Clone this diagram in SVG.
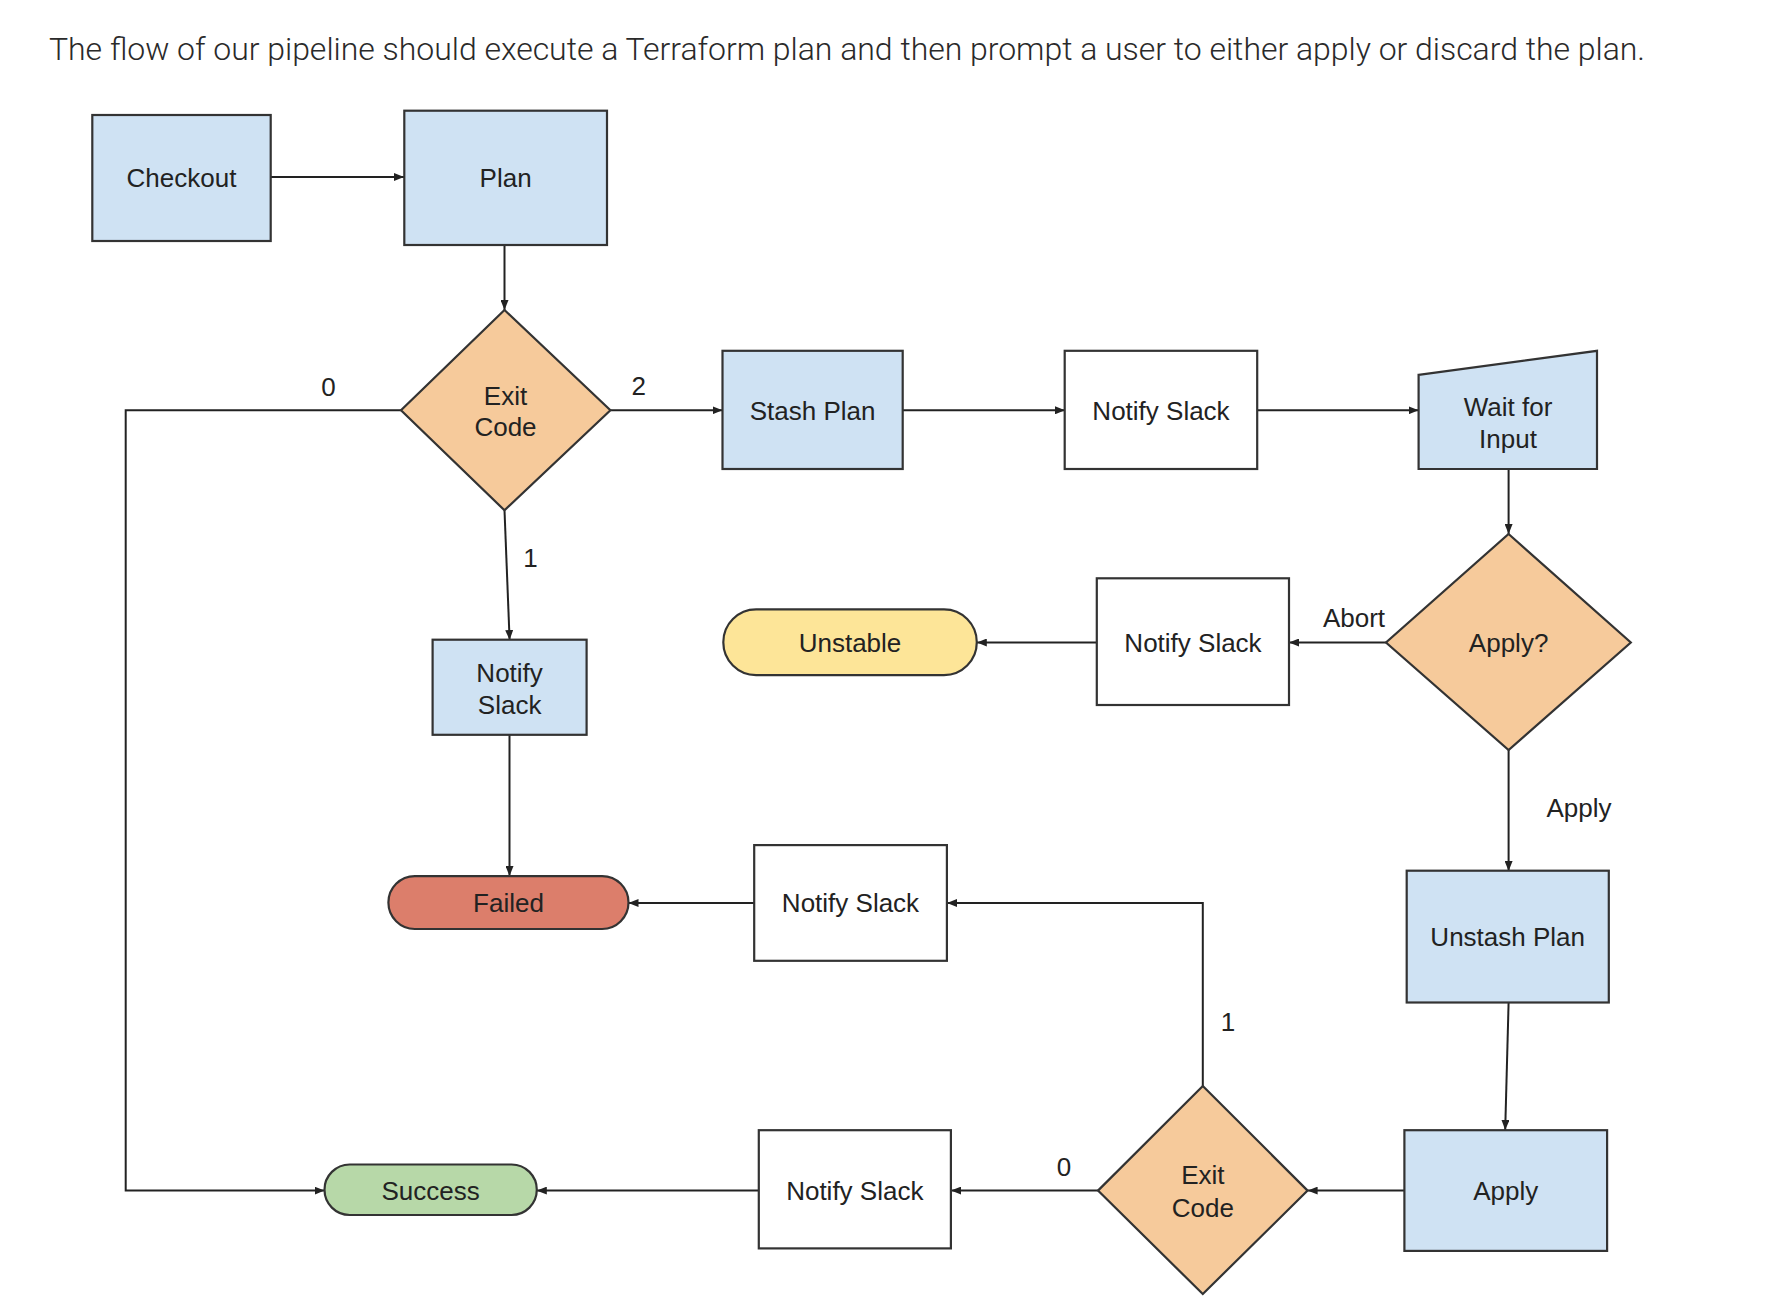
<svg xmlns="http://www.w3.org/2000/svg" width="1776" height="1296" viewBox="0 0 1776 1296">
<style>
.title{font-family:Roboto,"Liberation Sans",sans-serif;font-weight:300;font-size:32px;fill:#2a2a2a}
.t{font-family:"Liberation Sans",Arial,sans-serif;font-size:26px;fill:#222;text-anchor:middle}
.lbl{font-family:"Liberation Sans",Arial,sans-serif;font-size:26px;fill:#222;text-anchor:middle}
.blue{fill:#cfe2f3;stroke:#333;stroke-width:2.2}
.white{fill:#fff;stroke:#333;stroke-width:2.2}
.dia{fill:#f6ca9b;stroke:#333;stroke-width:2.2}
.fail{fill:#dc7e6b;stroke:#333;stroke-width:2.2}
.unst{fill:#fde598;stroke:#333;stroke-width:2.2}
.succ{fill:#b7d8a8;stroke:#333;stroke-width:2.2}
.c{fill:none;stroke:#222;stroke-width:2;marker-end:url(#ah)}
.cn{fill:none;stroke:#222;stroke-width:2}
</style>
<defs>
<marker id="ah" viewBox="0 0 10 8" refX="10" refY="4" markerWidth="10" markerHeight="8" markerUnits="userSpaceOnUse" orient="auto">
<path d="M0,0 L10,4 L0,8 z" fill="#222"/>
</marker>
</defs>
<rect width="1776" height="1296" fill="#fff"/>
<text class="title" x="49" y="60" textLength="1596" lengthAdjust="spacing">The flow of our pipeline should execute a Terraform plan and then prompt a user to either apply or discard the plan.</text>

<g id="connectors">
<path class="c" d="M271,177 H404"/>
<path class="c" d="M504.5,245 V310"/>
<path class="c" d="M610.4,410.3 H722.5"/>
<path class="c" d="M902.7,410.3 H1065"/>
<path class="c" d="M1257,410.3 H1418.6"/>
<path class="c" d="M1508.6,469 V534"/>
<path class="c" d="M1386,642.5 H1289"/>
<path class="c" d="M1097,642.5 H976.8"/>
<path class="c" d="M1508.6,750 V871"/>
<path class="c" d="M1508.6,1002.5 L1505.2,1130"/>
<path class="c" d="M1404,1190.6 H1307.6"/>
<path class="c" d="M1098,1190.6 H951"/>
<path class="c" d="M759,1190.6 H536.8"/>
<path class="c" d="M1202.8,1086 V903 H947"/>
<path class="c" d="M754,903 H628.5"/>
<path class="c" d="M504.5,510.3 L509.6,640"/>
<path class="c" d="M509.5,735 V876"/>
<path class="c" d="M401,410.3 H125.7 V1190.6 H324.5"/>
<text class="lbl" x="328.4" y="396">0</text>
<text class="lbl" x="638.7" y="394.5">2</text>
<text class="lbl" x="530.6" y="567">1</text>
<text class="lbl" x="1354" y="627">Abort</text>
<text class="lbl" x="1579" y="817">Apply</text>
<text class="lbl" x="1228" y="1031">1</text>
<text class="lbl" x="1064" y="1175.6">0</text>
</g>

<g id="checkout">
<rect class="blue" x="92.3" y="115" width="178.4" height="126"/>
<text class="t" x="181.5" y="187">Checkout</text>
</g>
<g id="plan">
<rect class="blue" x="404.3" y="110.7" width="202.7" height="134.3"/>
<text class="t" x="505.6" y="187">Plan</text>
</g>
<g id="exit-code-1">
<polygon class="dia" points="504.5,310 610.4,410.3 504.5,510.3 401,410.3"/>
<text class="t" x="505.5" y="404.5">Exit</text>
<text class="t" x="505.5" y="436">Code</text>
</g>
<g id="stash-plan">
<rect class="blue" x="722.5" y="350.8" width="180.2" height="118.2"/>
<text class="t" x="812.6" y="419.5">Stash Plan</text>
</g>
<g id="notify-slack-1">
<rect class="white" x="1064.7" y="350.8" width="192.5" height="118.2"/>
<text class="t" x="1161" y="419.5">Notify Slack</text>
</g>
<g id="wait-for-input">
<polygon class="blue" points="1418.6,374.8 1597,350.8 1597,469 1418.6,469"/>
<text class="t" x="1508" y="416">Wait for</text>
<text class="t" x="1508" y="447.8">Input</text>
</g>
<g id="apply-decision">
<polygon class="dia" points="1508.6,534 1630.8,642.5 1508.6,750 1386,642.5"/>
<text class="t" x="1508.6" y="651.5">Apply?</text>
</g>
<g id="notify-slack-abort">
<rect class="white" x="1096.8" y="578.3" width="192.2" height="126.7"/>
<text class="t" x="1193" y="651.5">Notify Slack</text>
</g>
<g id="unstable">
<rect class="unst" x="723.3" y="609.4" width="253.5" height="65.7" rx="32.8"/>
<text class="t" x="850" y="651.5">Unstable</text>
</g>
<g id="notify-slack-fail-plan">
<rect class="blue" x="432.6" y="639.7" width="154" height="95.1"/>
<text class="t" x="509.6" y="681.8">Notify</text>
<text class="t" x="509.6" y="713.6">Slack</text>
</g>
<g id="failed">
<rect class="fail" x="388.4" y="876.1" width="240.1" height="52.9" rx="26.4"/>
<text class="t" x="508.5" y="911.5">Failed</text>
</g>
<g id="notify-slack-fail-apply">
<rect class="white" x="754.2" y="845.1" width="192.7" height="115.7"/>
<text class="t" x="850.5" y="912">Notify Slack</text>
</g>
<g id="unstash-plan">
<rect class="blue" x="1406.7" y="870.7" width="202.1" height="131.8"/>
<text class="t" x="1507.7" y="945.5">Unstash Plan</text>
</g>
<g id="apply">
<rect class="blue" x="1404.4" y="1130.2" width="202.7" height="120.7"/>
<text class="t" x="1505.7" y="1199.6">Apply</text>
</g>
<g id="exit-code-2">
<polygon class="dia" points="1202.8,1086 1307.6,1190.6 1202.8,1294 1098,1190.6"/>
<text class="t" x="1202.8" y="1183.9">Exit</text>
<text class="t" x="1202.8" y="1217">Code</text>
</g>
<g id="notify-slack-success">
<rect class="white" x="758.8" y="1130.2" width="192.1" height="118.2"/>
<text class="t" x="854.8" y="1199.6">Notify Slack</text>
</g>
<g id="success">
<rect class="succ" x="324.5" y="1164.5" width="212.3" height="50.5" rx="25.2"/>
<text class="t" x="430.6" y="1199.6">Success</text>
</g>
</svg>
